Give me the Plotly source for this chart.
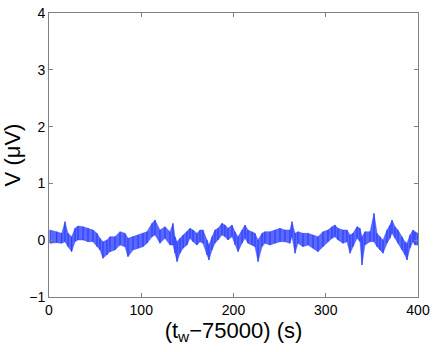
import plotly.graph_objects as go

# time after t_w = 75000 s
t = [1.1, 8.3, 13.8, 17.3, 20.6, 24.6, 28.2, 31.4, 36.9, 42.3, 47.7, 52.0, 55.3, 58.5,
     62.9, 66.1, 71.5, 77.0, 82.4, 85.6, 91.1, 96.5, 101.9, 106.2, 111.7, 114.9, 120.3,
     125.7, 131.2, 134.4, 136.6, 138.8, 142.0, 145.3, 149.6, 152.8, 156.1, 160.4, 163.7,
     166.9, 171.3, 173.4, 176.7, 179.9, 183.2, 187.5, 190.8, 194.0, 198.4, 201.6, 204.9,
     209.2, 212.5, 215.7, 220.1, 223.3, 226.6, 230.9, 234.1, 239.6, 245.0, 250.4, 255.8,
     261.2, 263.4, 266.7, 269.9, 275.3, 280.8, 286.2, 291.6, 297.0, 302.4, 306.8, 310.0,
     313.3, 318.7, 323.0, 326.3, 329.5, 333.9, 337.1, 339.3, 342.5, 348.0, 352.3, 355.6,
     358.8, 362.1, 366.4, 369.6, 371.8, 375.1, 378.3, 382.7, 385.9, 388.1, 391.3, 394.6,
     396.7, 400.0]

# upper and lower edge of the noisy trace in each column (uV)
v_hi = [0.180, 0.150, 0.121, 0.327, 0.121, 0.062, 0.209, 0.250, 0.238, 0.209, 0.180, 0.121,
        0.033, -0.026, 0.004, 0.062, 0.062, 0.150, 0.121, 0.033, 0.062, 0.092, 0.121, 0.150,
        0.297, 0.356, 0.180, 0.238, 0.150, 0.297, 0.062, -0.026, 0.033, 0.092, 0.150, 0.209,
        0.180, 0.121, 0.180, 0.180, 0.004, -0.085, 0.062, 0.180, 0.209, 0.297, 0.268, 0.209,
        0.268, 0.150, 0.062, 0.180, 0.268, 0.180, 0.150, 0.121, 0.004, 0.121, 0.150, 0.150,
        0.180, 0.209, 0.180, 0.180, 0.327, 0.121, 0.150, 0.121, 0.121, 0.092, 0.062, 0.150,
        0.180, 0.238, 0.268, 0.209, 0.180, 0.180, 0.092, 0.121, 0.238, 0.209, 0.062, 0.150,
        0.150, 0.473, 0.121, 0.062, 0.004, 0.180, 0.268, 0.356, 0.238, 0.180, 0.062, -0.026,
        -0.055, 0.092, 0.180, 0.150, 0.121]
v_lo = [-0.055, -0.043, -0.055, -0.026, -0.114, -0.202, -0.026, 0.004, 0.004, -0.026, -0.026,
        -0.114, -0.173, -0.319, -0.261, -0.202, -0.173, -0.085, -0.114, -0.290, -0.173,
        -0.143, -0.114, -0.055, 0.062, 0.092, -0.055, 0.033, -0.085, -0.085, -0.231, -0.378,
        -0.231, -0.143, -0.085, 0.033, -0.026, -0.085, -0.026, -0.055, -0.261, -0.349,
        -0.173, -0.055, 0.004, 0.092, 0.062, 0.004, 0.062, -0.085, -0.202, -0.055, 0.033,
        -0.055, -0.085, -0.114, -0.378, -0.114, -0.055, -0.085, -0.055, -0.026, -0.026,
        -0.055, 0.062, -0.231, -0.055, -0.114, -0.085, -0.143, -0.202, -0.114, -0.026, 0.033,
        0.062, 0.004, -0.055, -0.026, -0.231, -0.114, 0.033, -0.026, -0.437, -0.085, -0.026,
        -0.026, -0.114, -0.173, -0.231, -0.055, 0.033, 0.121, 0.033, -0.055, -0.173, -0.261,
        -0.349, -0.143, -0.026, -0.085, -0.085]

x_ticks = [0, 100, 200, 300, 400]
y_ticks = [-1, 0, 1, 2, 3, 4]

blue = "rgb(35,55,255)"

fig = go.Figure()
# shaded band between the two edges
fig.add_trace(go.Scatter(x=t, y=v_lo, mode="lines",
                         line=dict(color="rgba(35,55,255,0.5)", width=0.8),
                         hoverinfo="skip"))
fig.add_trace(go.Scatter(x=t, y=v_hi, mode="lines",
                         line=dict(color="rgba(35,55,255,0.5)", width=0.8),
                         fill="tonexty", fillcolor="rgba(35,55,255,0.75)",
                         hoverinfo="skip"))

# each column as a vertical stroke between its two edges
xs, ys = [], []
for ti, hi, lo in zip(t, v_hi, v_lo):
    xs += [ti, ti, None]
    ys += [hi, lo, None]
fig.add_trace(go.Scatter(x=xs, y=ys, mode="lines", line=dict(color=blue, width=1)))

axis_style = dict(
    showline=True, linecolor="#808080", linewidth=1, mirror="ticks",
    ticks="inside", ticklen=4, tickcolor="#808080",
    showgrid=False, zeroline=False, automargin=False,
    tickfont=dict(size=14, color="black"),
)
fig.update_xaxes(range=[0, 400], tickvals=x_ticks,
                 title=dict(text="(t<sub>w</sub>\u221275000) (s)",
                            font=dict(size=22, color="black"), standoff=2),
                 **axis_style)
fig.update_yaxes(range=[-1, 4], tickvals=y_ticks,
                 title=dict(text="V (\u03bcV)", font=dict(size=22, color="black"),
                            standoff=8),
                 **axis_style)
fig.update_layout(
    width=436, height=352,
    margin=dict(l=49, r=18, t=13, b=55),
    paper_bgcolor="white", plot_bgcolor="white",
    font=dict(family="Liberation Sans, Arial, sans-serif", color="black"),
    showlegend=False,
)

# drop the page's default body margin so the figure sits at the window corner
fig.write_html("out.html", config={"displayModeBar": False},
               post_script="document.body.style.margin='0';")
